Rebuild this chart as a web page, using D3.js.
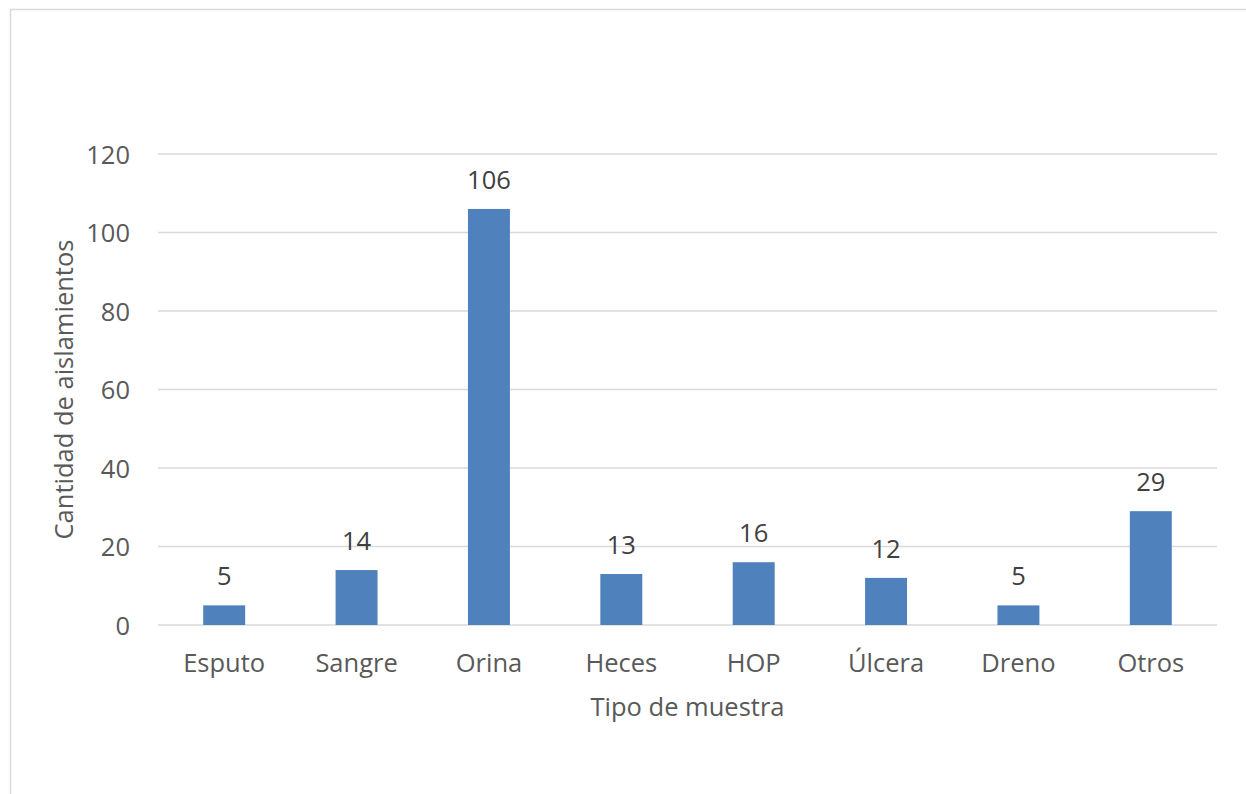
<!DOCTYPE html>
<html><head><meta charset="utf-8">
<script src="https://cdn.jsdelivr.net/npm/d3@7"></script>
<style>
html,body{margin:0;padding:0;background:#fff;}
svg{display:block;}
text{font-family:"Open Sans",sans-serif;}
</style></head>
<body><svg id="c" width="1246" height="794"></svg>
<script>
const categories = ["Esputo","Sangre","Orina","Heces","HOP","Úlcera","Dreno","Otros"];
const values = [5,14,106,13,16,12,5,29];
const yTicks = [0,20,40,60,80,100,120];
const xTitle = "Tipo de muestra";
const yTitle = "Cantidad de aislamientos";

const FS = 25.5;
const svg = d3.select("#c");
const m = {left:158, right:1217, top:154, bottom:625};

svg.append("rect").attr("x",10.5).attr("y",9.5).attr("width",1300).attr("height",900)
  .attr("fill","none").attr("stroke","#d9d9d9").attr("stroke-width",1.5);

const x = d3.scaleBand().domain(categories).range([m.left,m.right]).paddingInner(0.683).paddingOuter(0.3415);
const y = d3.scaleLinear().domain([0,120]).range([m.bottom,m.top]);

// gridlines
svg.append("g").selectAll("line").data(yTicks).join("line")
  .attr("x1",m.left).attr("x2",m.right)
  .attr("y1",d=>y(d)).attr("y2",d=>y(d))
  .attr("stroke","#d9d9d9").attr("stroke-width",1.5);

// y axis labels
const yAxis = svg.append("g").attr("transform",`translate(${m.left},0)`)
  .call(d3.axisLeft(y).tickValues(yTicks).tickSize(0).tickPadding(28));
yAxis.select(".domain").remove();
yAxis.selectAll("text").attr("font-size",FS).attr("fill","#595959").attr("font-family","Open Sans")
  .attr("dy",null).attr("y",9);

// bars
svg.append("g").selectAll("rect").data(values).join("rect")
  .attr("x",(d,i)=>x(categories[i])).attr("width",x.bandwidth())
  .attr("y",d=>y(d)).attr("height",d=>y(0)-y(d))
  .attr("fill","#4f81bd");

// data labels
svg.append("g").selectAll("text").data(values).join("text")
  .attr("x",(d,i)=>x(categories[i])+x.bandwidth()/2)
  .attr("y",d=>y(d)-20)
  .attr("text-anchor","middle").attr("font-size",FS).attr("fill","#404040")
  .text(d=>d);

// x axis labels
const xAxis = svg.append("g").attr("transform",`translate(0,${m.bottom})`)
  .call(d3.axisBottom(x).tickSize(0).tickPadding(0));
xAxis.select(".domain").remove();
xAxis.selectAll("text").attr("font-size",FS).attr("fill","#595959").attr("font-family","Open Sans")
  .attr("dy",null).attr("y",47);

svg.append("text").attr("x",(m.left+m.right)/2).attr("y",716)
  .attr("text-anchor","middle").attr("font-size",FS).attr("fill","#595959").text(xTitle);
svg.append("text").attr("transform",`translate(73,${(m.top+m.bottom)/2}) rotate(-90)`)
  .attr("text-anchor","middle").attr("font-size",FS).attr("fill","#595959").text(yTitle);
</script></body></html>
